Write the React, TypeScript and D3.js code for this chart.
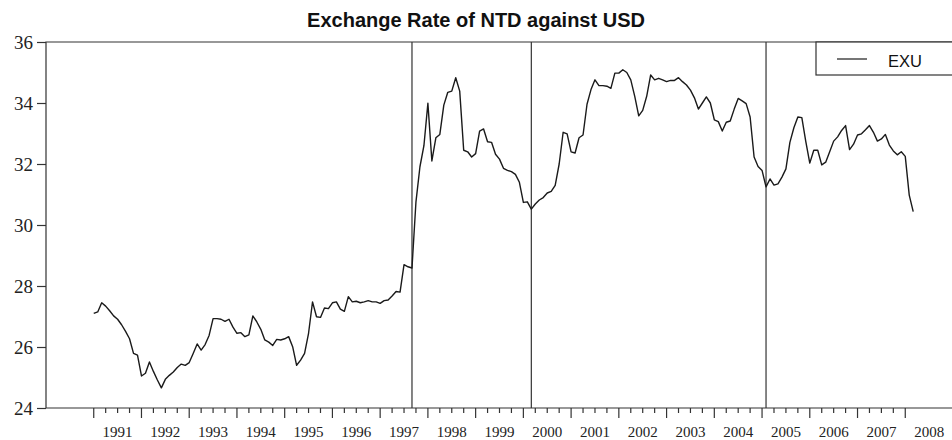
import React, { useEffect, useRef } from 'react';
import * as d3 from 'd3';

// monthly NTD/USD exchange rate, Jan 1991 .. Mar 2008
const startYear = 1991;
const exu = [
  // 1991
  27.1, 27.15, 27.45, 27.34, 27.19, 27.02, 26.91, 26.73, 26.51, 26.27, 25.79, 25.73,
  // 1992
  25.05, 25.14, 25.51, 25.2, 24.92, 24.66, 24.94, 25.07, 25.18, 25.33, 25.44, 25.4,
  // 1993
  25.49, 25.79, 26.1, 25.9, 26.08, 26.38, 26.93, 26.93, 26.91, 26.84, 26.91, 26.65,
  // 1994
  26.45, 26.47, 26.34, 26.4, 27.02, 26.82, 26.58, 26.23, 26.16, 26.05, 26.25, 26.23,
  // 1995
  26.27, 26.34, 26.01, 25.4, 25.57, 25.79, 26.45, 27.48, 26.99, 26.97, 27.28, 27.26,
  // 1996
  27.45, 27.48, 27.24, 27.17, 27.65, 27.48, 27.5, 27.45, 27.48, 27.52, 27.48, 27.48,
  // 1997
  27.43, 27.52, 27.54, 27.67, 27.82, 27.8, 28.7, 28.63, 28.59, 30.76, 31.91, 32.6,
  // 1998
  33.99, 32.1, 32.86, 32.97, 33.93, 34.35, 34.39, 34.83, 34.39, 32.45, 32.4, 32.23,
  // 1999
  32.34, 33.08, 33.15, 32.73, 32.71, 32.32, 32.16, 31.86, 31.79, 31.75, 31.66, 31.4,
  // 2000
  30.74, 30.76, 30.52, 30.69, 30.82, 30.9, 31.05, 31.1, 31.3, 32.0, 33.04, 32.99,
  // 2001
  32.4, 32.36, 32.86, 32.95, 33.96, 34.44, 34.76, 34.57, 34.57, 34.55, 34.48, 34.98,
  // 2002
  34.98, 35.09, 35.0, 34.76, 34.22, 33.58, 33.76, 34.22, 34.92, 34.76, 34.81, 34.76,
  // 2003
  34.7, 34.74, 34.74, 34.83, 34.7, 34.59, 34.42, 34.17, 33.8, 34.0, 34.2, 34.0,
  // 2004
  33.45, 33.39, 33.08, 33.37, 33.41, 33.8, 34.15, 34.07, 33.98, 33.54, 32.23, 31.92,
  // 2005
  31.79, 31.25, 31.51, 31.31, 31.35, 31.57, 31.84, 32.71, 33.19, 33.54, 33.52, 32.73,
  // 2006
  32.03, 32.45, 32.45, 31.97, 32.06, 32.4, 32.75, 32.89, 33.1, 33.26, 32.47, 32.65,
  // 2007
  32.95, 32.99, 33.12, 33.26, 33.04, 32.75, 32.82, 32.97, 32.62, 32.43, 32.3, 32.4,
  // 2008
  32.25, 30.98, 30.44,
];

// structural break markers (year, month)
const breaks: [number, number][] = [[1997, 9], [2000, 3], [2005, 2]];
const yTicks = [24, 26, 28, 30, 32, 34, 36];
const yearLabels = d3.range(1991, 2009);

export default function App() {
  const ref = useRef<SVGSVGElement>(null);

  useEffect(() => {
    const width = 952;
    const height = 440;
    const left = 46, right = 953, top = 42, bottom = 408;
    const ink = '#333';

    const svg = d3.select(ref.current);
    svg.selectAll('*').remove();

    const x = d3.scaleLinear().domain([1990, 2009]).range([left, right]);
    const y = d3.scaleLinear().domain([24, 36]).range([bottom, top]);

    // title
    svg.append('text')
      .attr('x', width / 2)
      .attr('y', 27)
      .attr('text-anchor', 'middle')
      .attr('font-family', 'Liberation Sans, Arial, sans-serif')
      .attr('font-weight', 'bold')
      .attr('font-size', 20)
      .attr('fill', '#111')
      .text('Exchange Rate of NTD against USD');

    // frame
    svg.append('path')
      .attr('d', `M${right},${top}H${left}V${bottom}H${right}`)
      .attr('fill', 'none')
      .attr('stroke', ink)
      .attr('stroke-width', 1.2);

    // y axis
    const yAxis = svg.append('g')
      .attr('transform', `translate(${left},0)`)
      .call(d3.axisLeft(y).tickValues(yTicks).tickSize(9).tickPadding(4).tickFormat(d3.format('d')));
    yAxis.select('.domain').remove();
    yAxis.selectAll('line').attr('stroke', ink).attr('stroke-width', 1.2);
    yAxis.selectAll('text')
      .attr('font-family', 'Liberation Serif, Times New Roman, serif')
      .attr('font-size', 19)
      .attr('fill', '#222');

    // x axis: quarterly minor ticks, yearly major ticks
    const quarters = d3.range(0, (2008 - 1991) * 4 + 1).map((q) => 1991 + q / 4);
    svg.append('g')
      .selectAll('line')
      .data(quarters)
      .join('line')
      .attr('x1', (d) => x(d))
      .attr('x2', (d) => x(d))
      .attr('y1', bottom)
      .attr('y2', (d) => bottom + (Number.isInteger(d) ? 10 : 5))
      .attr('stroke', ink)
      .attr('stroke-width', 1.2);

    svg.append('g')
      .selectAll('text')
      .data(yearLabels)
      .join('text')
      .attr('x', (d) => x(d + 0.5))
      .attr('y', 437)
      .attr('text-anchor', 'middle')
      .attr('font-family', 'Liberation Serif, Times New Roman, serif')
      .attr('font-size', 15)
      .attr('fill', '#222')
      .text((d) => String(d));

    // break lines
    svg.append('g')
      .selectAll('line')
      .data(breaks)
      .join('line')
      .attr('x1', (d) => x(d[0] + (d[1] - 1) / 12))
      .attr('x2', (d) => x(d[0] + (d[1] - 1) / 12))
      .attr('y1', top)
      .attr('y2', bottom)
      .attr('stroke', ink)
      .attr('stroke-width', 1.2);

    // series
    const line = d3.line<number>()
      .x((d, i) => x(startYear + i / 12))
      .y((d) => y(d));

    svg.append('path')
      .datum(exu)
      .attr('d', line)
      .attr('fill', 'none')
      .attr('stroke', '#1a1a1a')
      .attr('stroke-width', 1.4)
      .attr('stroke-linejoin', 'round');

    // legend
    const lg = svg.append('g');
    lg.append('rect')
      .attr('x', 816)
      .attr('y', top)
      .attr('width', 150)
      .attr('height', 33)
      .attr('fill', 'white')
      .attr('stroke', ink)
      .attr('stroke-width', 1.2);
    lg.append('line')
      .attr('x1', 837)
      .attr('x2', 867)
      .attr('y1', 59)
      .attr('y2', 59)
      .attr('stroke', '#1a1a1a')
      .attr('stroke-width', 1.2);
    lg.append('text')
      .attr('x', 888)
      .attr('y', 66.5)
      .attr('font-family', 'Liberation Sans, Arial, sans-serif')
      .attr('font-size', 16.5)
      .attr('fill', '#111')
      .text('EXU');

    svg.attr('width', width).attr('height', height);
  }, []);

  return (
    <svg
      ref={ref}
      width={952}
      height={440}
      style={{ position: 'absolute', left: 0, top: 0, background: 'white' }}
    />
  );
}
